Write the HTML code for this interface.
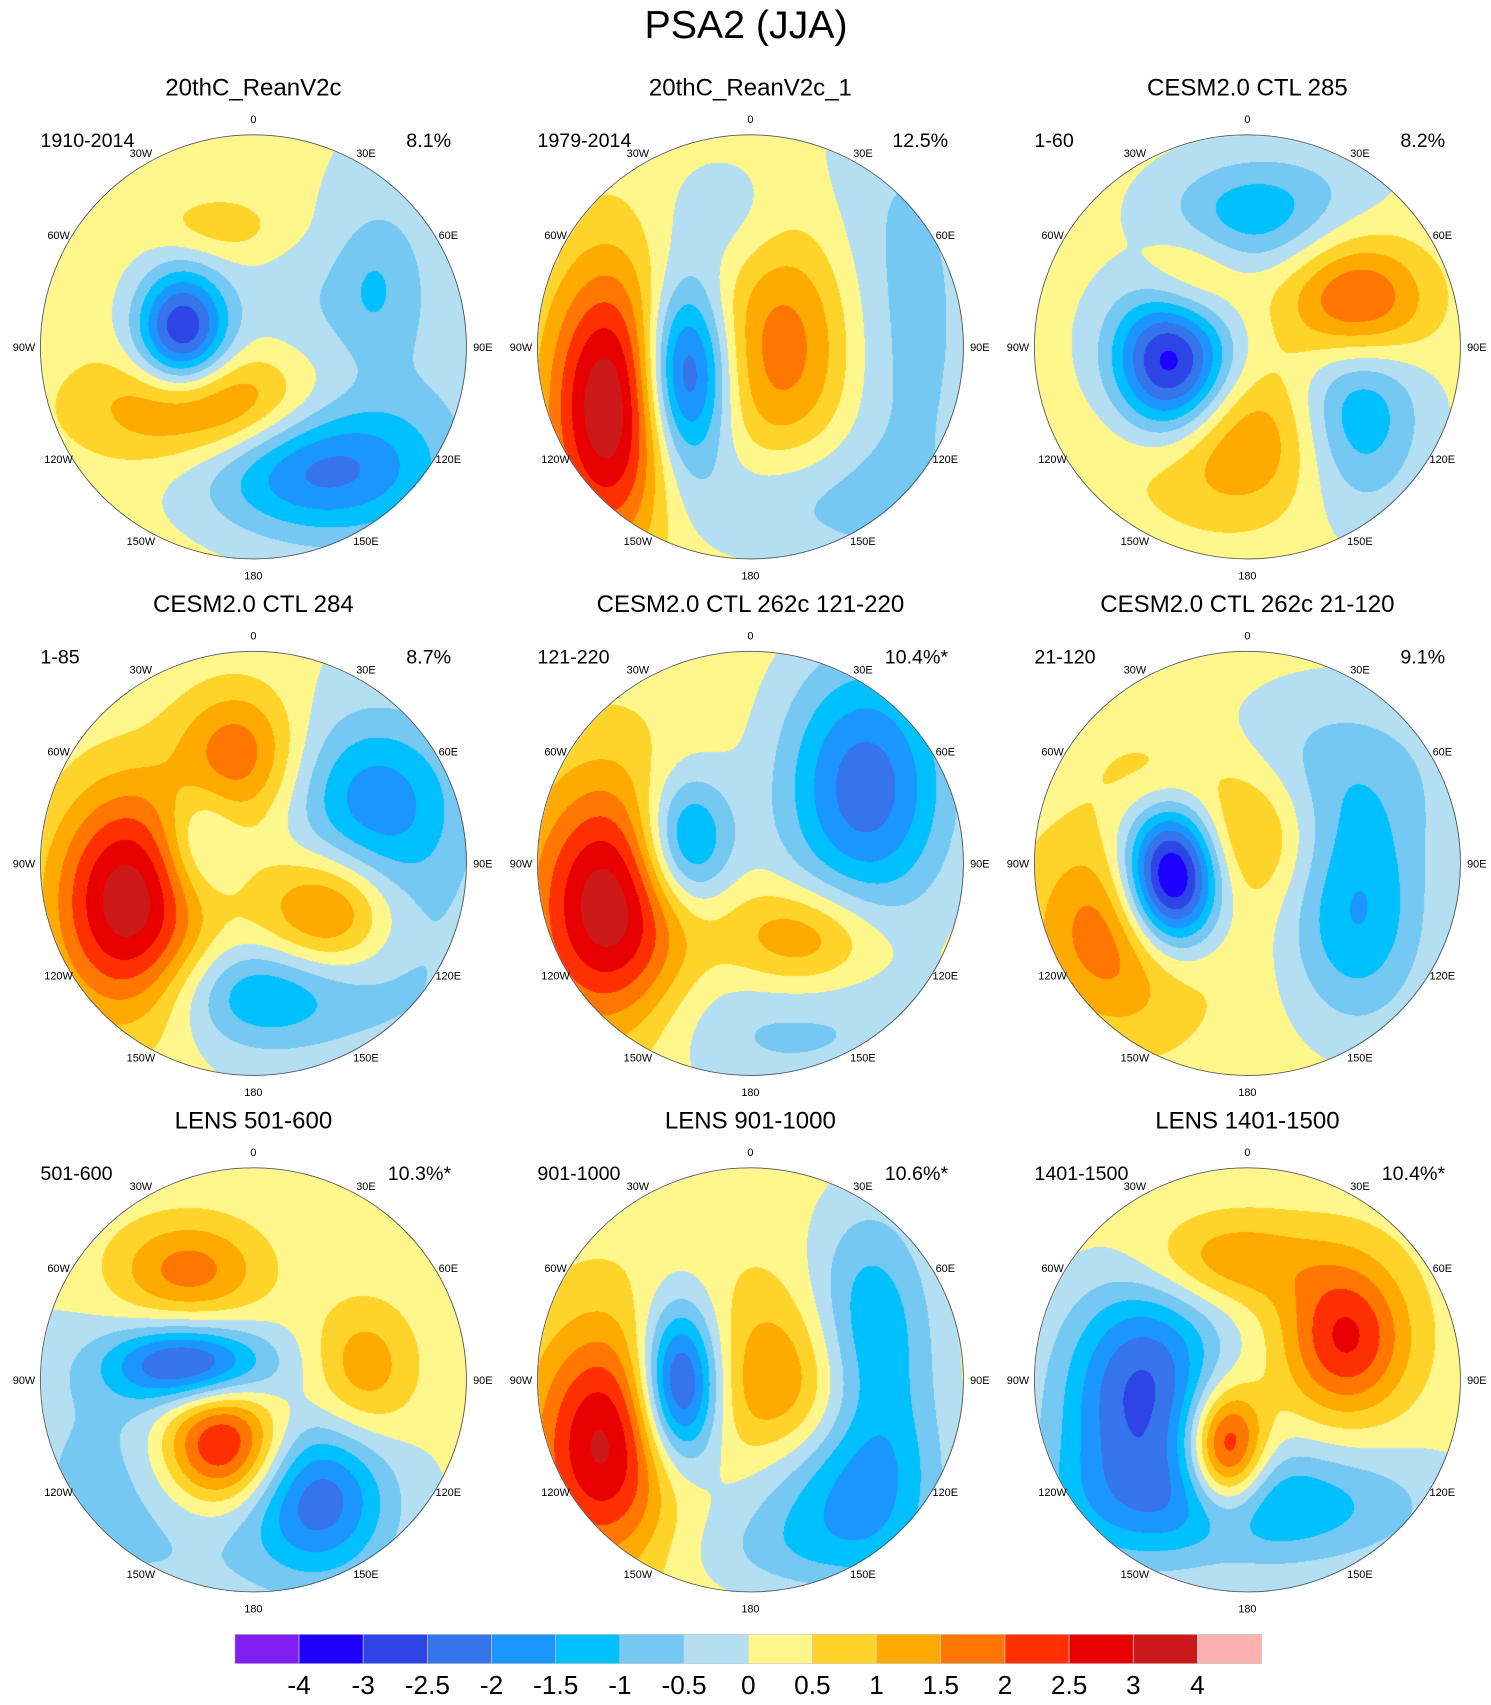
<!DOCTYPE html>
<html><head><meta charset="utf-8"><style>
html,body{margin:0;padding:0;background:#fff;}
#wrap{position:relative;width:1491px;height:1705px;overflow:hidden;}
#cv,#sv{position:absolute;left:0;top:0;}
text{font-family:"Liberation Sans",sans-serif;fill:#000;}
</style></head><body>
<div id="wrap">
<canvas id="cv" width="1491" height="1705"></canvas>
<svg id="sv" width="1491" height="1705" viewBox="0 0 1365 1568" preserveAspectRatio="none">
<text x="683" y="35" font-size="36" text-anchor="middle">PSA2 (JJA)</text>
<g id="labels"></g>
<g id="cbar"></g>
</svg>
</div>
<script>
const levels=[-4,-3,-2.5,-2,-1.5,-1,-0.5,0,0.5,1,1.5,2,2.5,3,4];
const levelLabels=["-4","-3","-2.5","-2","-1.5","-1","-0.5","0","0.5","1","1.5","2","2.5","3","4"];
const colors=["#8020F0","#1E00FF","#2E45E6","#3574EA","#1C96FF","#00C0FF","#75C8F2","#B4DFF2","#FFF68C","#FFD42A","#FFAA00","#FF7700","#FF3000","#E80000","#CC1A1A","#FFB0B0"];
const titles=["20thC_ReanV2c","20thC_ReanV2c_1","CESM2.0 CTL 285","CESM2.0 CTL 284","CESM2.0 CTL 262c 121-220","CESM2.0 CTL 262c 21-120","LENS 501-600","LENS 901-1000","LENS 1401-1500"];
const periods=["1910-2014","1979-2014","1-60","1-85","121-220","21-120","501-600","901-1000","1401-1500"];
const variances=["8.1%","12.5%","8.2%","8.7%","10.4%*","9.1%","10.3%*","10.6%*","10.4%*"];
const baseVals=[0.25,0.2,0.15,0.05,0.3,0.25,0.1,0.3,0.2];
// blobs: [dx, dy, amplitude, sigmaX, sigmaY] relative to panel centre (radius 195)
const blobs1=[[-65,-15,-3.3,30,40],[-40,55,2.0,70,35],[55,110,-2.3,75,45],[140,-20,-0.6,70,170],[110,-55,-0.7,25,45],[-30,-110,0.6,40,20],[40,-40,-0.4,40,40]];
const blobs2=[[-130,55,3.3,40,90],[-60,25,-3.2,28,60],[35,0,1.7,50,80],[135,-20,-1.0,55,160],[40,140,-0.8,70,40],[-20,-120,-0.6,40,40]];
const blobs3=[[-70,15,-3.8,38,52],[100,60,-1.8,40,60],[0,-120,-1.4,55,35],[-20,85,1.6,70,50],[100,-40,2.2,45,40],[-55,-60,1.3,35,35],[60,-150,-0.3,60,30]];
const blobs4=[[-115,35,3.3,50,75],[-15,-100,1.8,40,45],[110,-60,-1.7,55,55],[70,45,1.9,45,40],[10,120,-1.6,60,35],[-50,-20,-1.2,25,40],[140,60,-0.7,50,80]];
const blobs5=[[-130,40,3.1,50,80],[-60,-20,-2.4,30,45],[105,-70,-2.6,55,85],[50,70,1.5,50,35],[30,150,-0.9,100,50]];
const blobs6=[[-70,15,-5.0,32,48],[0,-30,1.4,45,45],[-110,60,2.0,55,60],[100,50,-1.7,45,70],[80,-80,-1.0,80,60],[-80,-80,0.6,40,30]];
const blobs7=[[-60,-15,-2.6,50,25],[-30,60,3.2,40,40],[60,110,-2.2,45,50],[-60,-100,1.7,50,35],[100,-10,1.3,35,45],[-90,90,-0.9,100,90]];
const blobs8=[[-135,60,2.8,45,75],[-65,5,-3.5,26,52],[40,10,1.6,55,65],[100,-40,-1.6,40,80],[70,100,-1.7,60,50],[130,40,-0.8,40,120],[40,160,-0.6,80,30]];
const blobs9=[[-90,0,-2.3,50,70],[0,115,-1.8,110,40],[-20,65,3.2,25,40],[90,-40,2.4,40,50],[-20,-110,1.3,60,30],[-130,60,-0.8,50,80]];
const allBlobs=[blobs1,blobs2,blobs3,blobs4,blobs5,blobs6,blobs7,blobs8,blobs9];
const colX=[232,687,1142], rowY=[319,794,1269], R=195;

const SX=1491/1365, SY=1705/1568;
function hex(c){return [parseInt(c.slice(1,3),16),parseInt(c.slice(3,5),16),parseInt(c.slice(5,7),16)];}
const rgb=colors.map(hex);
function binOf(v){let i=0;while(i<levels.length&&v>=levels[i])i++;return i;}
function field(b,base,dx,dy){let v=base;for(const g of b){const a=(dx-g[0])/g[3],c=(dy-g[1])/g[4];v+=g[2]*Math.exp(-0.5*(a*a+c*c));}return v;}

const cv=document.getElementById('cv');const ctx=cv.getContext('2d');
const img=ctx.createImageData(1491,1705);const d=img.data;
for(let i=0;i<d.length;i+=4){d[i]=255;d[i+1]=255;d[i+2]=255;d[i+3]=255;}
for(let p=0;p<9;p++){
  const cx=colX[p%3],cy=rowY[Math.floor(p/3)];
  const x0=Math.floor((cx-R)*SX),x1=Math.ceil((cx+R)*SX),y0=Math.floor((cy-R)*SY),y1=Math.ceil((cy+R)*SY);
  for(let py=y0;py<=y1;py++)for(let px=x0;px<=x1;px++){
    const dx=px/SX-cx,dy=py/SY-cy;
    if(dx*dx+dy*dy>R*R)continue;
    const c=rgb[binOf(field(allBlobs[p],baseVals[p],dx,dy))];
    const k=(py*1491+px)*4;d[k]=c[0];d[k+1]=c[1];d[k+2]=c[2];
  }
}
ctx.putImageData(img,0,0);

const NS="http://www.w3.org/2000/svg";
function T(parent,x,y,s,size,anchor){const t=document.createElementNS(NS,'text');t.setAttribute('x',x);t.setAttribute('y',y);t.setAttribute('font-size',size);t.setAttribute('text-anchor',anchor);t.textContent=s;parent.appendChild(t);return t;}
const lg=document.getElementById('labels');
const lonNames=["0","30E","60E","90E","120E","150E","180","150W","120W","90W","60W","30W"];
for(let p=0;p<9;p++){
  const cx=colX[p%3],cy=rowY[Math.floor(p/3)];
  const g=document.createElementNS(NS,'g');
  
  
  lg.appendChild(g);
  const c=document.createElementNS(NS,'circle');c.setAttribute('cx',cx);c.setAttribute('cy',cy);c.setAttribute('r',R);c.setAttribute('fill','none');c.setAttribute('stroke','#555');c.setAttribute('stroke-width','0.8');
  
  
  g.appendChild(c);
  let t=T(g,cx,cy-231,titles[p],22,'middle');
  
  
  t=T(g,cx-195,cy-184,periods[p],18,'start');
  
  
  t=T(g,cx+181,cy-184,variances[p],18,'end');
  
  
  for(let k=0;k<12;k++){
    const a=k*30*Math.PI/180, rr=(k%3===0)?210:206;
    const lx=cx+rr*Math.sin(a), ly=cy-rr*Math.cos(a)+4;
    t=T(g,lx.toFixed(1),ly.toFixed(1),lonNames[k],10,'middle');
    
    
  }
}
const cb=document.getElementById('cbar');
const cbX=215,cbW=940/16,cbY=1503,cbH=27;
for(let i=0;i<16;i++){
  const r=document.createElementNS(NS,'rect');r.setAttribute('x',cbX+i*cbW);r.setAttribute('y',cbY);r.setAttribute('width',cbW);r.setAttribute('height',cbH);r.setAttribute('fill',colors[i]);r.setAttribute('stroke','#ccc');r.setAttribute('stroke-width','0.6');
  
  
  cb.appendChild(r);
}
for(let i=0;i<levels.length;i++){
  const t=T(cb,cbX+(i+1)*cbW,1558,levelLabels[i],24,'middle');
  
  
}
</script>
</body></html>
